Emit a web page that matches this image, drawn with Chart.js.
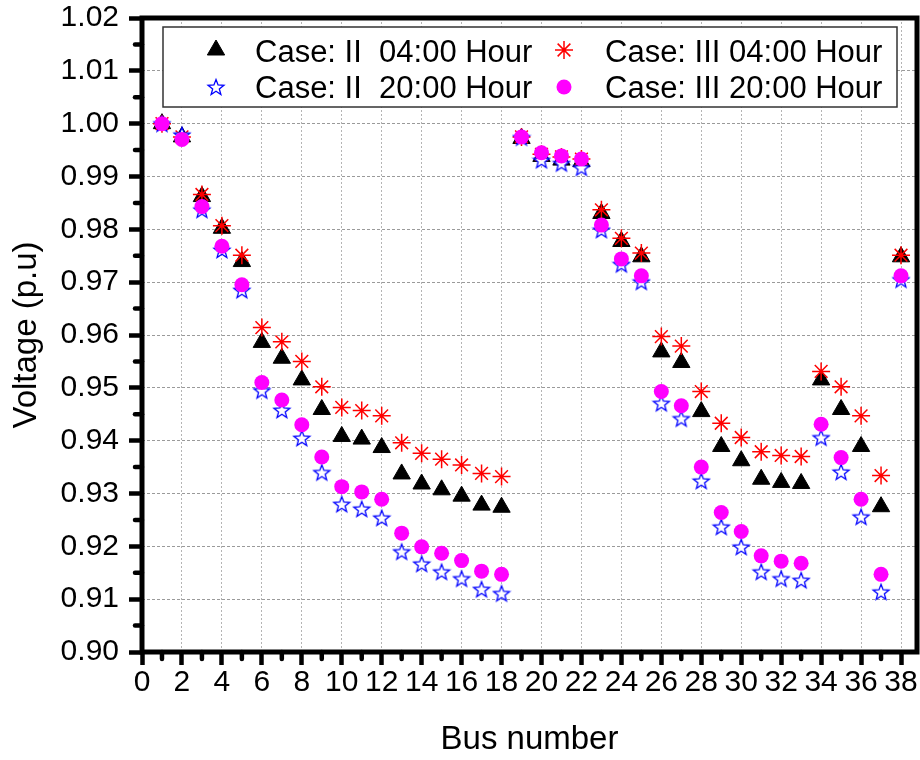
<!DOCTYPE html>
<html>
<head>
<meta charset="utf-8">
<script src="https://cdn.jsdelivr.net/npm/chart.js@4.4.0/dist/chart.umd.min.js"></script>
<style>
  html, body { margin: 0; padding: 0; background: #fff; }
  #wrap { width: 920px; height: 760px; }
</style>
</head>
<body>
<div id="wrap"><canvas id="voltageChart" width="920" height="760"></canvas></div>
<script>
// Bus numbers (x axis)
const busNumbers = [1, 2, 3, 4, 5, 6, 7, 8, 9, 10, 11, 12, 13, 14, 15, 16, 17, 18, 19,
    20, 21, 22, 23, 24, 25, 26, 27, 28, 29, 30, 31, 32, 33, 34, 35, 36, 37, 38];

// Voltage (p.u) per bus
const caseII_04 = [1.0000, 0.9975, 0.9862, 0.9802, 0.9739, 0.9586, 0.9556, 0.9515, 0.9459, 0.9408,
    0.9403, 0.9387, 0.9337, 0.9318, 0.9307, 0.9295, 0.9278, 0.9274, 0.9972, 0.9938,
    0.9931, 0.9928, 0.9830, 0.9777, 0.9748, 0.9568, 0.9548, 0.9455, 0.9389, 0.9362,
    0.9327, 0.9321, 0.9319, 0.9515, 0.9459, 0.9389, 0.9275, 0.9748];
const caseIII_04 = [1.0000, 0.9975, 0.9866, 0.9807, 0.9751, 0.9614, 0.9587, 0.9550, 0.9502, 0.9463,
    0.9457, 0.9447, 0.9396, 0.9376, 0.9365, 0.9354, 0.9338, 0.9332, 0.9975, 0.9942,
    0.9937, 0.9933, 0.9837, 0.9783, 0.9755, 0.9597, 0.9579, 0.9493, 0.9433, 0.9406,
    0.9379, 0.9372, 0.9370, 0.9531, 0.9502, 0.9447, 0.9334, 0.9751];
const caseII_20 = [1.0000, 0.9979, 0.9837, 0.9761, 0.9685, 0.9495, 0.9458, 0.9405, 0.9340, 0.9280,
    0.9271, 0.9254, 0.9190, 0.9167, 0.9152, 0.9139, 0.9119, 0.9111, 0.9974, 0.9931,
    0.9925, 0.9917, 0.9799, 0.9734, 0.9701, 0.9471, 0.9442, 0.9324, 0.9237, 0.9199,
    0.9152, 0.9139, 0.9136, 0.9406, 0.9341, 0.9256, 0.9114, 0.9705];
const caseIII_20 = [1.0000, 0.9970, 0.9843, 0.9768, 0.9695, 0.9510, 0.9477, 0.9430, 0.9369, 0.9313,
    0.9303, 0.9289, 0.9225, 0.9199, 0.9187, 0.9173, 0.9153, 0.9147, 0.9975, 0.9945,
    0.9939, 0.9933, 0.9808, 0.9744, 0.9712, 0.9493, 0.9466, 0.9350, 0.9264, 0.9228,
    0.9182, 0.9172, 0.9168, 0.9431, 0.9368, 0.9289, 0.9147, 0.9712];

// Axis ticks
const xTicks = [0, 2, 4, 6, 8, 10, 12, 14, 16, 18, 20, 22, 24, 26, 28, 30, 32, 34, 36, 38];
const xMinorTicks = [1, 3, 5, 7, 9, 11, 13, 15, 17, 19, 21, 23, 25, 27, 29, 31, 33, 35, 37];
const yTicks = [0.90, 0.91, 0.92, 0.93, 0.94, 0.95, 0.96, 0.97, 0.98, 0.99, 1.00, 1.01, 1.02];
const yMinorTicks = [0.905, 0.915, 0.925, 0.935, 0.945, 0.955, 0.965, 0.975, 0.985, 0.995, 1.005, 1.015];

// legend: column 1 = Case II, column 2 = Case III
const legendLabels = ['Case: II  04:00 Hour', 'Case: II  20:00 Hour', 'Case: III 04:00 Hour', 'Case: III 20:00 Hour'];

Chart.defaults.font.family = '"Liberation Sans", Arial, sans-serif';
Chart.defaults.color = '#000';

// open blue five-pointed star used as point style
function makeStar() {
    const c = document.createElement('canvas');
    c.width = 20;
    c.height = 20;
    const g = c.getContext('2d');
    g.beginPath();
    for (let i = 0; i < 10; i++) {
        const r = i % 2 === 0 ? 8.3 : 3.5;
        const a = -Math.PI / 2 + i * Math.PI / 5;
        g.lineTo(10 + r * Math.cos(a), 10.8 + r * Math.sin(a));
    }
    g.closePath();
    g.fillStyle = '#fff';
    g.fill();
    g.strokeStyle = '#0000ff';
    g.lineWidth = 1.3;
    g.stroke();
    return c;
}
const starImg = makeStar();

function toPoints(values) {
    return busNumbers.map((b, i) => ({ x: b, y: values[i] }));
}

// minor ticks and the full black frame round the plot
const framePlugin = {
    id: 'framePlugin',
    afterDraw(chart) {
        const { ctx, chartArea, scales } = chart;
        ctx.save();
        ctx.strokeStyle = '#000';
        ctx.lineWidth = 4.5;
        ctx.lineCap = 'round';
        xMinorTicks.forEach(v => {
            const px = scales.x.getPixelForValue(v);
            ctx.beginPath();
            ctx.moveTo(px, chartArea.bottom);
            ctx.lineTo(px, chartArea.bottom + 7);
            ctx.stroke();
        });
        yMinorTicks.forEach(v => {
            const py = scales.y.getPixelForValue(v);
            ctx.beginPath();
            ctx.moveTo(chartArea.left, py);
            ctx.lineTo(chartArea.left - 7, py);
            ctx.stroke();
        });
        ctx.lineCap = 'butt';
        ctx.lineWidth = 5;
        ctx.strokeRect(chartArea.left, chartArea.top,
            chartArea.right - chartArea.left, chartArea.bottom - chartArea.top);
        ctx.restore();
    }
};

// boxed legend inside the plot, two columns
const legendPlugin = {
    id: 'legendPlugin',
    afterDraw(chart) {
        const { ctx, chartArea } = chart;
        const left = chartArea.left + 21;
        const top = chartArea.top + 9;
        const right = chartArea.right - 20;
        ctx.save();
        ctx.fillStyle = '#fff';
        ctx.fillRect(left, top, right - left, 80);
        ctx.strokeStyle = '#333';
        ctx.lineWidth = 1.5;
        ctx.strokeRect(left, top, right - left, 80);

        // datasets: 0 triangle, 1 star, 2 asterisk, 3 circle
        [0, 1, 2, 3].forEach(k => {
            const ds = chart.data.datasets[k];
            const col = k < 2 ? 0 : 1;
            const row = k % 2;
            const mx = col === 0 ? left + 53 : left + 401;
            const my = top + (row === 0 ? 23 : 60);
            ctx.fillStyle = ds.backgroundColor;
            ctx.strokeStyle = ds.borderColor;
            ctx.lineWidth = ds.borderWidth;
            Chart.helpers.drawPoint(ctx, {
                pointStyle: ds.pointStyle,
                radius: ds.pointRadius,
                rotation: 0,
                borderWidth: ds.borderWidth
            }, mx, my);
            ctx.fillStyle = '#000';
            ctx.font = '31px "Liberation Sans", Arial, sans-serif';
            ctx.textBaseline = 'alphabetic';
            ctx.textAlign = 'left';
            ctx.fillText(legendLabels[k], mx + 39 + (col === 1 ? 2 : 0), top + (row === 0 ? 35 : 71));
        });
        ctx.restore();
    }
};

const ctx = document.getElementById('voltageChart').getContext('2d');
const voltageChart = new Chart(ctx, {
    type: 'scatter',
    data: {
        datasets: [
            {
                label: 'Case: II  04:00 Hour',
                data: toPoints(caseII_04),
                pointStyle: 'triangle',
                pointRadius: 10,
                backgroundColor: '#000000',
                borderColor: '#000000',
                borderWidth: 1,
                order: 4
            },
            {
                label: 'Case: II  20:00 Hour',
                data: toPoints(caseII_20),
                pointStyle: starImg,
                pointRadius: 8,
                backgroundColor: '#ffffff',
                borderColor: '#0000ff',
                borderWidth: 1.3,
                order: 2
            },
            {
                label: 'Case: III 04:00 Hour',
                data: toPoints(caseIII_04),
                pointStyle: 'star',
                pointRadius: 9,
                backgroundColor: 'rgba(0,0,0,0)',
                borderColor: '#ff0000',
                borderWidth: 1.5,
                order: 3
            },
            {
                label: 'Case: III 20:00 Hour',
                data: toPoints(caseIII_20),
                pointStyle: 'circle',
                pointRadius: 7.5,
                backgroundColor: '#ff00ff',
                borderColor: '#ff00ff',
                borderWidth: 0,
                order: 1
            }
        ]
    },
    options: {
        responsive: false,
        animation: false,
        devicePixelRatio: 1,
        layout: {
            autoPadding: false,
            padding: { left: 0, right: 3, top: 18, bottom: 0 }
        },
        plugins: {
            legend: { display: false },
            tooltip: { enabled: false }
        },
        scales: {
            x: {
                type: 'linear',
                min: 0,
                max: 38.8,
                afterBuildTicks: s => { s.ticks = xTicks.map(v => ({ value: v })); },
                afterFit: s => {
                    s.height = 108;
                    s.paddingLeft = 0;
                    s.paddingRight = 0;
                },
                ticks: {
                    font: { size: 30 },
                    color: '#000',
                    padding: 0,
                    maxRotation: 0,
                    autoSkip: false,
                    callback: v => String(v)
                },
                grid: {
                    color: '#b4b4b4',
                    lineWidth: 1,
                    tickLength: 13,
                    tickWidth: 4.5,
                    tickColor: '#000'
                },
                border: { display: false, dash: [2, 2] },
                title: {
                    display: true,
                    text: 'Bus number',
                    font: { size: 33 },
                    color: '#000',
                    padding: { top: 0, bottom: 0 }
                }
            },
            y: {
                type: 'linear',
                min: 0.90,
                max: 1.02,
                afterBuildTicks: s => { s.ticks = yTicks.map(v => ({ value: v })); },
                afterFit: s => {
                    s.width = 142;
                    s.paddingTop = 0;
                    s.paddingBottom = 0;
                },
                ticks: {
                    font: { size: 30 },
                    color: '#000',
                    padding: 10,
                    callback: v => v.toFixed(2)
                },
                grid: {
                    color: '#9a9a9a',
                    lineWidth: 1,
                    tickLength: 13,
                    tickWidth: 4.5,
                    tickColor: '#000'
                },
                border: { display: false, dash: [3, 2] },
                title: {
                    display: true,
                    text: 'Voltage (p.u)',
                    font: { size: 33 },
                    color: '#000',
                    padding: { top: 7, bottom: 0 }
                }
            }
        }
    },
    plugins: [framePlugin, legendPlugin]
});
</script>
</body>
</html>
